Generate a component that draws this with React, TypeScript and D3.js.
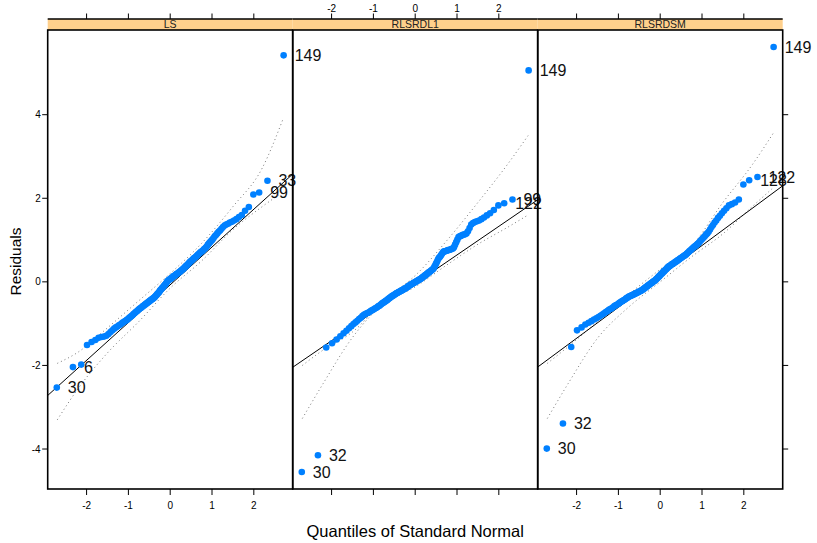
import React from "react";
import * as d3 from "d3";

// panels of the trellis display
const panelNames = ["LS", "RLSRDL1", "RLSRDSM"];

// sorted residuals
const lsResid = [
  -2.53, -2.04, -1.98, -1.51, -1.44, -1.39, -1.34, -1.32, -1.31, -1.29,
  -1.25, -1.2, -1.16, -1.12, -1.09, -1.07, -1.04, -1.02, -0.99, -0.97,
  -0.95, -0.93, -0.91, -0.89, -0.86, -0.84, -0.82, -0.8, -0.77, -0.75,
  -0.73, -0.71, -0.69, -0.67, -0.65, -0.63, -0.62, -0.6, -0.58, -0.57,
  -0.55, -0.54, -0.52, -0.51, -0.49, -0.48, -0.46, -0.45, -0.43, -0.42,
  -0.41, -0.39, -0.38, -0.36, -0.34, -0.32, -0.3, -0.28, -0.26, -0.24,
  -0.21, -0.19, -0.17, -0.15, -0.13, -0.11, -0.09, -0.07, -0.05, -0.03,
  0.0, 0.02, 0.04, 0.05, 0.06, 0.07, 0.09, 0.1, 0.11, 0.13,
  0.14, 0.15, 0.16, 0.18, 0.19, 0.2, 0.21, 0.23, 0.24, 0.25,
  0.27, 0.28, 0.3, 0.31, 0.33, 0.35, 0.37, 0.38, 0.4, 0.42,
  0.44, 0.46, 0.48, 0.5, 0.51, 0.53, 0.55, 0.57, 0.58, 0.6,
  0.62, 0.64, 0.66, 0.68, 0.7, 0.72, 0.73, 0.75, 0.78, 0.8,
  0.82, 0.85, 0.89, 0.92, 0.95, 0.98, 1.01, 1.05, 1.09, 1.12,
  1.16, 1.2, 1.23, 1.27, 1.31, 1.35, 1.37, 1.39, 1.42, 1.44,
  1.47, 1.5, 1.55, 1.6, 1.7, 1.79, 2.09, 2.14, 2.42, 5.42,
];
const rdl1Resid = [
  -4.55, -4.15, -1.57, -1.47, -1.38, -1.3, -1.23, -1.17, -1.11, -1.06,
  -1.01, -0.97, -0.93, -0.89, -0.86, -0.82, -0.79, -0.77, -0.75, -0.74,
  -0.72, -0.7, -0.68, -0.67, -0.65, -0.63, -0.62, -0.6, -0.58, -0.57,
  -0.55, -0.53, -0.51, -0.5, -0.48, -0.47, -0.45, -0.44, -0.42, -0.4,
  -0.39, -0.37, -0.36, -0.34, -0.33, -0.32, -0.31, -0.29, -0.28, -0.27,
  -0.26, -0.25, -0.24, -0.23, -0.22, -0.21, -0.2, -0.19, -0.18, -0.17,
  -0.16, -0.15, -0.14, -0.13, -0.12, -0.1, -0.09, -0.08, -0.07, -0.06,
  -0.05, -0.04, -0.03, -0.02, -0.01, 0.0, 0.01, 0.02, 0.03, 0.04,
  0.05, 0.06, 0.07, 0.08, 0.1, 0.11, 0.12, 0.13, 0.15, 0.16,
  0.17, 0.19, 0.2, 0.22, 0.23, 0.24, 0.26, 0.27, 0.29, 0.3,
  0.32, 0.36, 0.39, 0.43, 0.47, 0.51, 0.55, 0.58, 0.6, 0.63,
  0.66, 0.69, 0.72, 0.73, 0.73, 0.74, 0.75, 0.76, 0.76, 0.77,
  0.78, 0.79, 0.8, 0.83, 0.89, 0.95, 1.01, 1.07, 1.09, 1.1,
  1.12, 1.13, 1.14, 1.16, 1.21, 1.29, 1.37, 1.41, 1.43, 1.45,
  1.47, 1.5, 1.54, 1.59, 1.64, 1.72, 1.83, 1.88, 1.97, 5.06,
];
const rdsmResid = [
  -3.99, -3.39, -1.56, -1.16, -1.09, -1.02, -0.98, -0.94, -0.9, -0.87,
  -0.84, -0.81, -0.78, -0.75, -0.72, -0.7, -0.67, -0.65, -0.63, -0.61,
  -0.58, -0.56, -0.55, -0.53, -0.51, -0.49, -0.47, -0.46, -0.44, -0.43,
  -0.41, -0.39, -0.38, -0.36, -0.35, -0.34, -0.33, -0.32, -0.31, -0.3,
  -0.29, -0.28, -0.27, -0.26, -0.25, -0.24, -0.23, -0.22, -0.21, -0.2,
  -0.19, -0.17, -0.16, -0.15, -0.13, -0.12, -0.11, -0.09, -0.08, -0.07,
  -0.05, -0.04, -0.03, -0.02, 0.0, 0.01, 0.02, 0.03, 0.05, 0.07,
  0.08, 0.1, 0.12, 0.13, 0.15, 0.17, 0.19, 0.2, 0.22, 0.24,
  0.25, 0.27, 0.29, 0.3, 0.32, 0.34, 0.36, 0.37, 0.38, 0.39,
  0.41, 0.42, 0.43, 0.44, 0.45, 0.47, 0.48, 0.49, 0.5, 0.52,
  0.53, 0.54, 0.56, 0.57, 0.58, 0.6, 0.61, 0.62, 0.64, 0.65,
  0.67, 0.69, 0.71, 0.73, 0.75, 0.77, 0.79, 0.81, 0.83, 0.85,
  0.87, 0.89, 0.91, 0.94, 0.97, 1.0, 1.03, 1.06, 1.09, 1.13,
  1.16, 1.2, 1.25, 1.31, 1.36, 1.42, 1.47, 1.53, 1.58, 1.64,
  1.7, 1.76, 1.83, 1.86, 1.9, 1.97, 2.33, 2.43, 2.51, 5.62,
];

// labelled extreme observations (rank in sorted order -> observation id)
const lsLabelRanks = [150, 149, 148, 2, 1];
const lsLabelIds = ["149", "33", "99", "6", "30"];
const rdl1LabelRanks = [150, 149, 148, 2, 1];
const rdl1LabelIds = ["149", "99", "122", "32", "30"];
const rdsmLabelRanks = [150, 149, 148, 2, 1];
const rdsmLabelIds = ["149", "122", "128", "32", "30"];

// reference lines
const lineIntercepts = [-0.07, -0.04, 0.13];
const lineSlopes = [0.904, 0.684, 0.74];

// simulation envelopes
const envX = [-2.7, -2.2, -1.5, -0.75, 0, 0.75, 1.5, 2.2, 2.7];
const lsEnvUpper = [-1.95, -1.68, -1.1, -0.45, 0.2, 0.92, 1.8, 2.72, 3.9];
const lsEnvLower = [-3.3, -2.55, -1.7, -0.95, -0.15, 0.5, 1.25, 1.8, 2.15];
const rdl1EnvUpper = [-2.0, -1.63, -1.2, -0.45, 0.15, 0.98, 1.9, 2.8, 3.5];
const rdl1EnvLower = [-3.27, -2.43, -1.33, -0.52, -0.12, 0.4, 0.9, 1.3, 1.6];
const rdsmEnvUpper = [-1.95, -1.55, -0.95, -0.3, 0.3, 0.85, 1.9, 2.8, 3.55];
const rdsmEnvLower = [-3.27, -2.43, -1.35, -0.6, 0.0, 0.6, 1.15, 1.8, 2.25];

const xTicks = [-2, -1, 0, 1, 2];
const yTicks = [-4, -2, 0, 2, 4];

// inverse standard normal cdf (Acklam)
function qnorm(p: number): number {
  const a = [-39.69683028665376, 220.9460984245205, -275.9285104469687, 138.357751867269, -30.66479806614716, 2.506628277459239];
  const b = [-54.47609879822406, 161.5858368580409, -155.6989798598866, 66.80131188771972, -13.28068155288572];
  const c = [-0.007784894002430293, -0.3223964580411365, -2.400758277161838, -2.549732539343734, 4.374664141464968, 2.938163982698783];
  const d = [0.007784695709041462, 0.3224671290700398, 2.445134137142996, 3.754408661907416];
  const pl = 0.02425;
  if (p < pl) {
    const q = Math.sqrt(-2 * Math.log(p));
    return (((((c[0] * q + c[1]) * q + c[2]) * q + c[3]) * q + c[4]) * q + c[5]) / ((((d[0] * q + d[1]) * q + d[2]) * q + d[3]) * q + 1);
  }
  if (p > 1 - pl) return -qnorm(1 - p);
  const q = p - 0.5;
  const r = q * q;
  return ((((((a[0] * r + a[1]) * r + a[2]) * r + a[3]) * r + a[4]) * r + a[5]) * q) / (((((b[0] * r + b[1]) * r + b[2]) * r + b[3]) * r + b[4]) * r + 1);
}

const panels = [
  { resid: lsResid, ranks: lsLabelRanks, ids: lsLabelIds, up: lsEnvUpper, lo: lsEnvLower },
  { resid: rdl1Resid, ranks: rdl1LabelRanks, ids: rdl1LabelIds, up: rdl1EnvUpper, lo: rdl1EnvLower },
  { resid: rdsmResid, ranks: rdsmLabelRanks, ids: rdsmLabelIds, up: rdsmEnvUpper, lo: rdsmEnvLower },
];

const W = 817;
const H = 543;
const left = 47.7;
const panelW = 245;
const top = 30;
const bottom = 489;
const stripH = 11;
const font = "'Liberation Sans', Arial, Helvetica, sans-serif";

export default function App() {
  const n = lsResid.length;
  const quant = d3.range(n).map((i) => qnorm((i + 0.5) / n));
  const qExt = d3.extent(quant) as [number, number];
  const qPad = (qExt[1] - qExt[0]) * 0.04;
  const all = panels.flatMap((p) => p.resid);
  const rExt = d3.extent(all) as [number, number];
  const rPad = (rExt[1] - rExt[0]) * 0.04;
  const y = d3.scaleLinear().domain([rExt[0] - rPad, rExt[1] + rPad]).range([bottom, top]);

  return (
    <svg width={W} height={H} style={{ position: "absolute", left: 0, top: 0 }} fontFamily={font}>
      <defs>
        {panels.map((_, k) => (
          <clipPath id={`clip${k}`} key={k}>
            <rect x={left + k * panelW} y={top} width={panelW} height={bottom - top} />
          </clipPath>
        ))}
      </defs>
      {panels.map((p, k) => {
        const x0 = left + k * panelW;
        const x = d3.scaleLinear().domain([qExt[0] - qPad, qExt[1] + qPad]).range([x0, x0 + panelW]);
        const [d0, d1] = x.domain();
        const env = d3
          .line<number>()
          .x((_, i) => x(envX[i]))
          .y((v) => y(v))
          .curve(d3.curveMonotoneX);
        return (
          <g key={k}>
            {/* strip */}
            <rect x={x0} y={top - stripH} width={panelW} height={stripH} fill="#FFD08C" />
            <line x1={x0} x2={x0 + panelW} y1={top - stripH} y2={top - stripH} stroke="#000" strokeWidth={1.5} />
            <text x={x0 + panelW / 2} y={top - stripH / 2} dy="0.36em" textAnchor="middle" fontSize={10.5} fill="#222">
              {panelNames[k]}
            </text>
            <g clipPath={`url(#clip${k})`}>
              <path d={env(p.up) || ""} fill="none" stroke="#777" strokeWidth={1} strokeDasharray="1 3" />
              <path d={env(p.lo) || ""} fill="none" stroke="#777" strokeWidth={1} strokeDasharray="1 3" />
              <line
                x1={x(d0)}
                x2={x(d1)}
                y1={y(lineIntercepts[k] + lineSlopes[k] * d0)}
                y2={y(lineIntercepts[k] + lineSlopes[k] * d1)}
                stroke="#000"
                strokeWidth={1}
              />
            </g>
            {p.resid.map((v, i) => (
              <circle key={i} cx={x(quant[i])} cy={y(v)} r={3.3} fill="#0080FF" />
            ))}
            {p.ranks.map((r, j) => (
              <text key={j} x={x(quant[r - 1]) + 11} y={y(p.resid[r - 1])} dy="0.36em" fontSize={16} fill="#111">
                {p.ids[j]}
              </text>
            ))}
            <rect x={x0} y={top} width={panelW} height={bottom - top} fill="none" stroke="#000" strokeWidth={1.6} />
            {/* top ticks */}
            {xTicks.map((t) => (
              <line key={`t${t}`} x1={x(t)} x2={x(t)} y1={top - stripH} y2={top - stripH - 5.5} stroke="#000" />
            ))}
            {k === 1 &&
              xTicks.map((t) => (
                <text key={`tl${t}`} x={x(t)} y={8.5} dy="0.36em" textAnchor="middle" fontSize={10}>
                  {t}
                </text>
              ))}
            {/* bottom ticks */}
            {xTicks.map((t) => (
              <line key={`b${t}`} x1={x(t)} x2={x(t)} y1={bottom} y2={bottom + 6} stroke="#000" />
            ))}
            {k !== 1 &&
              xTicks.map((t) => (
                <text key={`bl${t}`} x={x(t)} y={505} dy="0.36em" textAnchor="middle" fontSize={10}>
                  {t}
                </text>
              ))}
          </g>
        );
      })}
      {/* left axis */}
      {yTicks.map((t) => (
        <g key={`y${t}`}>
          <line x1={left - 5.5} x2={left} y1={y(t)} y2={y(t)} stroke="#000" />
          <text x={left - 7} y={y(t)} dy="0.36em" textAnchor="end" fontSize={10}>
            {t}
          </text>
          <line x1={left + 3 * panelW} x2={left + 3 * panelW + 5.5} y1={y(t)} y2={y(t)} stroke="#000" />
        </g>
      ))}
      <text transform={`translate(15,${(top + bottom) / 2 + 2}) rotate(-90)`} dy="0.36em" textAnchor="middle" fontSize={15.5}>
        Residuals
      </text>
      <text x={left + 1.5 * panelW} y={531} dy="0.36em" textAnchor="middle" fontSize={16.5}>
        Quantiles of Standard Normal
      </text>
    </svg>
  );
}
